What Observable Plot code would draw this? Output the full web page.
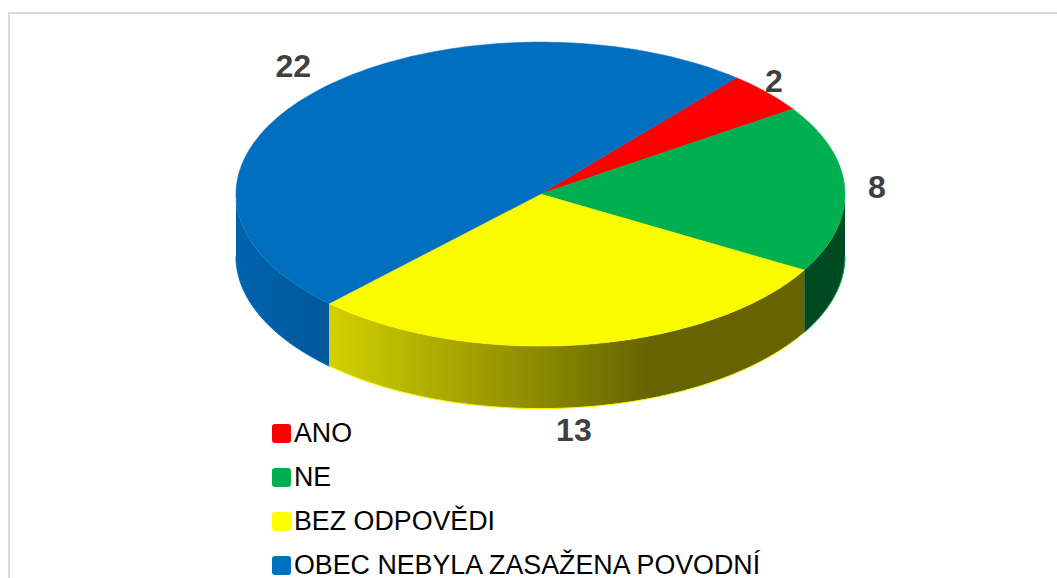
<!DOCTYPE html>
<html>
<head>
<meta charset="utf-8">
<script src="https://cdn.jsdelivr.net/npm/d3@7"></script>
<script src="https://cdn.jsdelivr.net/npm/@observablehq/plot@0.6"></script>
<style>
  html, body { margin: 0; padding: 0; background: #fff; overflow: hidden; width: 1057px; height: 578px; }
  #frame { position: absolute; left: 8px; top: 12px; width: 1200px; height: 800px; border: 2px solid #d9d9d9; box-sizing: border-box; }
  #chart { position: absolute; left: 0; top: 0; }
  #chart svg { display: block; background: transparent; }
  #legend { position: absolute; left: 272px; top: 411px; font-family: "Liberation Sans", Arial, sans-serif; font-size: 26.8px; color: #000; }
  #legend .row { display: flex; align-items: center; height: 44px; white-space: nowrap; }
  #legend .sw { width: 19px; height: 19px; border-radius: 3px; margin-right: 3px; flex: none; }
</style>
</head>
<body>
<div id="frame"></div>
<div id="chart"></div>
<div id="legend"></div>
<script>
const categories = ["ANO", "NE", "BEZ ODPOVĚDI", "OBEC NEBYLA ZASAŽENA POVODNÍ"];
const values = [2, 8, 13, 22];
const topColors = ["#ff0000", "#00b050", "#fbfb00", "#006fc0"];
const swatchColors = ["#ff0000", "#00b050", "#ffff00", "#0070c0"];
const wallFills = ["#990000", "#004a22", "url(#wallYellow)", "url(#wallBlue)"];
const labelDx = [7, 32, -9, -21];
const labelDy = [-11, -1, 86, -26];

const toRad = Math.PI / 180;
const depth = 62.5 / 152;
const arcs = d3.pie().sort(null).value(d => d).startAngle(40 * toRad).endAngle(400 * toRad)(values);
const rim = (a, z = 0) => ({x: Math.sin(a), y: Math.cos(a) - z * depth});
const sweep = (a0, a1) => {
  const n = Math.max(2, Math.ceil(Math.abs(a1 - a0) / toRad));
  return d3.range(n + 1).map(i => a0 + (a1 - a0) * i / n);
};

// the near half of the cylinder, in the pie's clockwise angle
const visibleWall = (a0, a1) => {
  const ranges = [];
  for (const [lo, hi] of [[90 * toRad, 270 * toRad], [450 * toRad, 630 * toRad]]) {
    const s = Math.max(a0, lo), e = Math.min(a1, hi);
    if (e > s) ranges.push([s, e]);
  }
  return ranges;
};

const wallMarks = [], edgeMarks = [], topMarks = [], labelMarks = [];
arcs.forEach((arc, i) => {
  for (const [s, e] of visibleWall(arc.startAngle, arc.endAngle)) {
    const bottom = sweep(s, e).map(a => rim(a, 1));
    const upper = sweep(e, s).map(a => rim(a, 0));
    wallMarks.push(Plot.line([...bottom, ...upper], {x: "x", y: "y", fill: wallFills[i], stroke: "none", curve: "linear"}));
    edgeMarks.push(Plot.line(bottom, {x: "x", y: "y", stroke: topColors[i], strokeWidth: 1, curve: "linear"}));
  }
  const wedge = [{x: 0, y: 0}, ...sweep(arc.startAngle, arc.endAngle).map(a => rim(a))];
  topMarks.push(Plot.line(wedge, {x: "x", y: "y", fill: topColors[i], stroke: topColors[i], strokeWidth: 0.5, curve: "linear-closed"}));
  const mid = (arc.startAngle + arc.endAngle) / 2;
  labelMarks.push(Plot.text([{...rim(mid), v: values[i]}], {
    x: "x", y: "y", text: d => String(d.v), dx: labelDx[i], dy: labelDy[i],
    fontSize: 32, fontWeight: 700, fill: "#404040", fontFamily: "Liberation Sans, Arial, sans-serif",
    textAnchor: "middle", lineAnchor: "middle"
  }));
});

const defs = () => {
  const d = d3.create("svg:defs");
  const grad = (id, stops) => {
    const g = d.append("linearGradient").attr("id", id).attr("x1", 0).attr("x2", 1).attr("y1", 0).attr("y2", 0);
    stops.forEach(([o, c]) => g.append("stop").attr("offset", o).attr("stop-color", c));
  };
  grad("wallYellow", [[0, "#d2d000"], [0.68, "#666300"], [1, "#666300"]]);
  grad("wallBlue", [[0, "#0063ad"], [1, "#00589a"]]);
  return d.node();
};

const chart = Plot.plot({
  width: 1057,
  height: 578,
  margin: 0,
  style: {background: "transparent"},
  x: {domain: [-1, 1], range: [235.5, 844.5], axis: null},
  y: {domain: [-1, 1], range: [345.6, 41.6], axis: null},
  marks: [defs, ...wallMarks, ...edgeMarks, ...topMarks, ...labelMarks]
});
document.getElementById("chart").appendChild(chart);

const legend = d3.select("#legend");
categories.forEach((c, i) => {
  const row = legend.append("div").attr("class", "row");
  row.append("span").attr("class", "sw").style("background", swatchColors[i]);
  row.append("span").text(c);
});
</script>
</body>
</html>
